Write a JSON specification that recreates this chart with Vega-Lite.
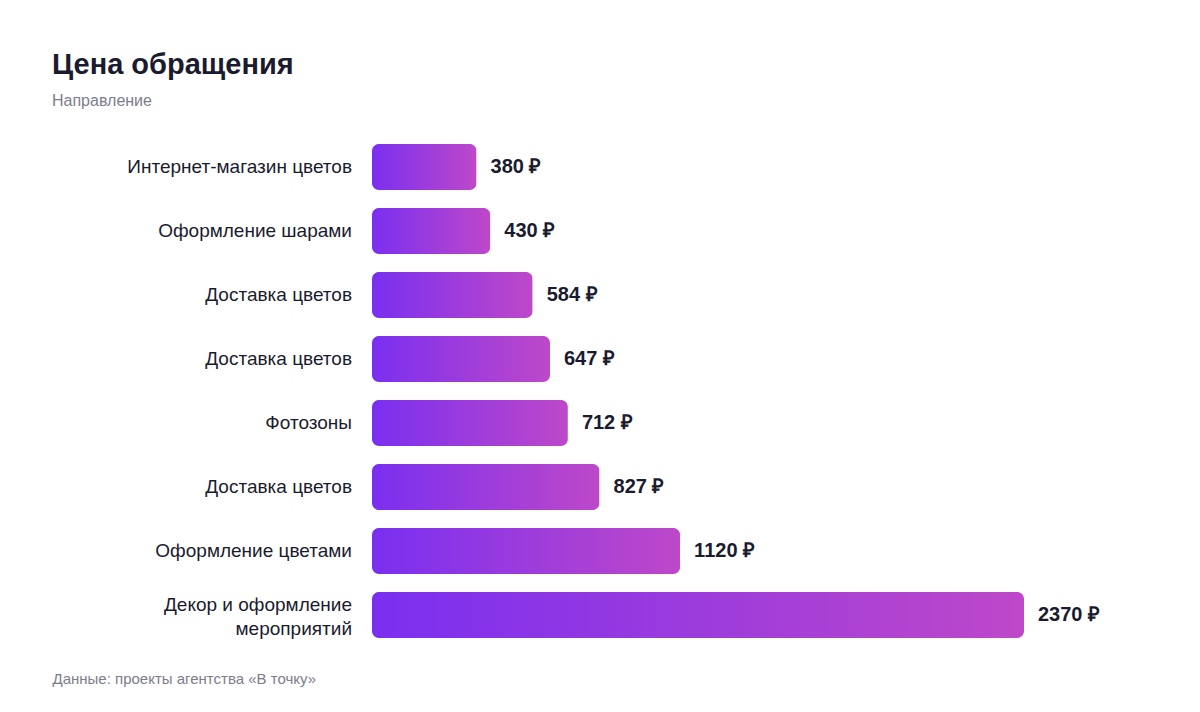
{
  "$schema": "https://vega.github.io/schema/vega-lite/v6.json",
  "autosize": "none",
  "width": 652,
  "height": 512,
  "padding": {"left": 372, "top": 135, "right": 176, "bottom": 65},
  "background": "white",
  "config": {
    "view": {"stroke": null},
    "font": "Liberation Sans",
    "text": {"font": "Liberation Sans"}
  },
  "title": {
    "text": "Цена обращения",
    "subtitle": "Направление",
    "anchor": "start",
    "frame": "group",
    "dx": -320,
    "offset": 26,
    "font": "Liberation Sans",
    "fontSize": 29,
    "fontWeight": "bold",
    "color": "#1b1b2f",
    "subtitleFont": "Liberation Sans",
    "subtitleFontSize": 16,
    "subtitleColor": "#7d7d8c",
    "subtitlePadding": 13
  },
  "data": {
    "values": [
      {"id": 1, "name": "Интернет-магазин цветов", "value": 380},
      {"id": 2, "name": "Оформление шарами", "value": 430},
      {"id": 3, "name": "Доставка цветов", "value": 584},
      {"id": 4, "name": "Доставка цветов", "value": 647},
      {"id": 5, "name": "Фотозоны", "value": 712},
      {"id": 6, "name": "Доставка цветов", "value": 827},
      {"id": 7, "name": "Оформление цветами", "value": 1120},
      {"id": 8, "name": "Декор и оформление\nмероприятий", "value": 2370}
    ]
  },
  "transform": [
    {"calculate": "datum.value + ' ₽'", "as": "label"}
  ],
  "encoding": {
    "y": {
      "field": "id",
      "type": "ordinal",
      "sort": "ascending",
      "scale": {"paddingInner": 0.28, "paddingOuter": 0.14},
      "axis": null
    },
    "x": {
      "field": "value",
      "type": "quantitative",
      "scale": {"domain": [0, 2370], "nice": false},
      "axis": {
        "labels": false,
        "ticks": false,
        "domain": false,
        "grid": false,
        "title": "Данные: проекты агентства «В точку»",
        "titleFont": "Liberation Sans",
        "titleFontSize": 15,
        "titleFontWeight": "normal",
        "titleColor": "#7d7d8c",
        "titleX": -320,
        "titleY": 24,
        "titleAlign": "left"
      }
    }
  },
  "layer": [
    {
      "mark": {
        "type": "bar",
        "cornerRadius": 7,
        "fill": {
          "gradient": "linear",
          "x1": 0, "y1": 0, "x2": 1, "y2": 0,
          "stops": [
            {"offset": 0, "color": "#7a2ff0"},
            {"offset": 1, "color": "#be48c9"}
          ]
        }
      }
    },
    {
      "mark": {
        "type": "text",
        "align": "left",
        "baseline": "middle",
        "dx": 14,
        "font": "Liberation Sans",
        "fontSize": 20,
        "fontWeight": "bold",
        "color": "#1b1b2f"
      },
      "encoding": {"text": {"field": "label"}}
    },
    {
      "transform": [{"filter": "indexof(datum.name, '\\n') < 0"}],
      "mark": {
        "type": "text",
        "align": "right",
        "baseline": "middle",
        "dx": -20,
        "font": "Liberation Sans",
        "fontSize": 19,
        "color": "#1b1b2f"
      },
      "encoding": {
        "x": {"datum": 0},
        "text": {"field": "name"}
      }
    },
    {
      "transform": [{"filter": "indexof(datum.name, '\\n') >= 0"}],
      "mark": {
        "type": "text",
        "align": "right",
        "baseline": "middle",
        "dx": -20,
        "dy": -10,
        "font": "Liberation Sans",
        "fontSize": 19,
        "lineBreak": "\n",
        "lineHeight": 24,
        "color": "#1b1b2f"
      },
      "encoding": {
        "x": {"datum": 0},
        "text": {"field": "name"}
      }
    }
  ]
}
